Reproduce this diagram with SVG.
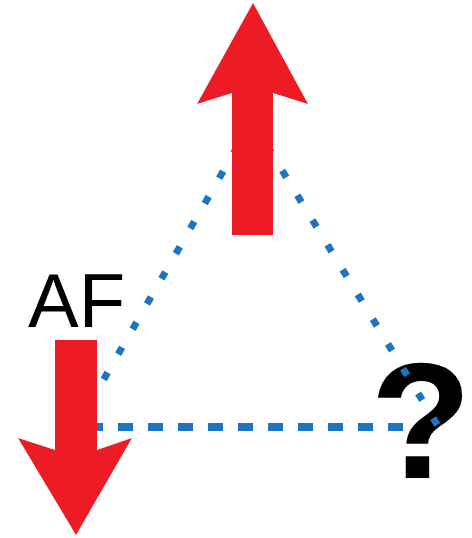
<svg xmlns="http://www.w3.org/2000/svg" width="472" height="538" viewBox="0 0 472 538">
  <style>
    .edge { stroke: #1f74c2; stroke-width: 7; fill: none; }
    .dot { stroke-dasharray: 8 21; }
    .dash { stroke-dasharray: 15 15; stroke-width: 8; }
    .arrow { fill: #ed1c24; }
    .lbl { font-family: "Liberation Sans", Arial, sans-serif; fill: #000; }
  </style>
  <rect width="472" height="538" fill="#fff"/>
  <g id="question">
    <text class="lbl" x="421" y="478" font-size="166" font-weight="bold" text-anchor="middle">?</text>
  </g>
  <g id="connectors">
    <line class="edge dot" x1="252" y1="121" x2="77" y2="426"/>
    <line class="edge dot" x1="252" y1="121" x2="438" y2="426"/>
    <line class="edge dash" x1="88" y1="427" x2="403" y2="427"/>
  </g>
  <g id="arrow-up">
    <path class="arrow" d="M253,3 L308,104 L273,93 L273,235 L232,235 L232,93 L197,104 Z"/>
  </g>
  <g id="arrow-down">
    <path class="arrow" d="M76,535 L18,438 L55,450 L55,340 L97,340 L97,450 L132,438 Z"/>
  </g>
  <g id="label-af">
    <text class="lbl" x="28" y="327" font-size="76">AF</text>
  </g>
</svg>
